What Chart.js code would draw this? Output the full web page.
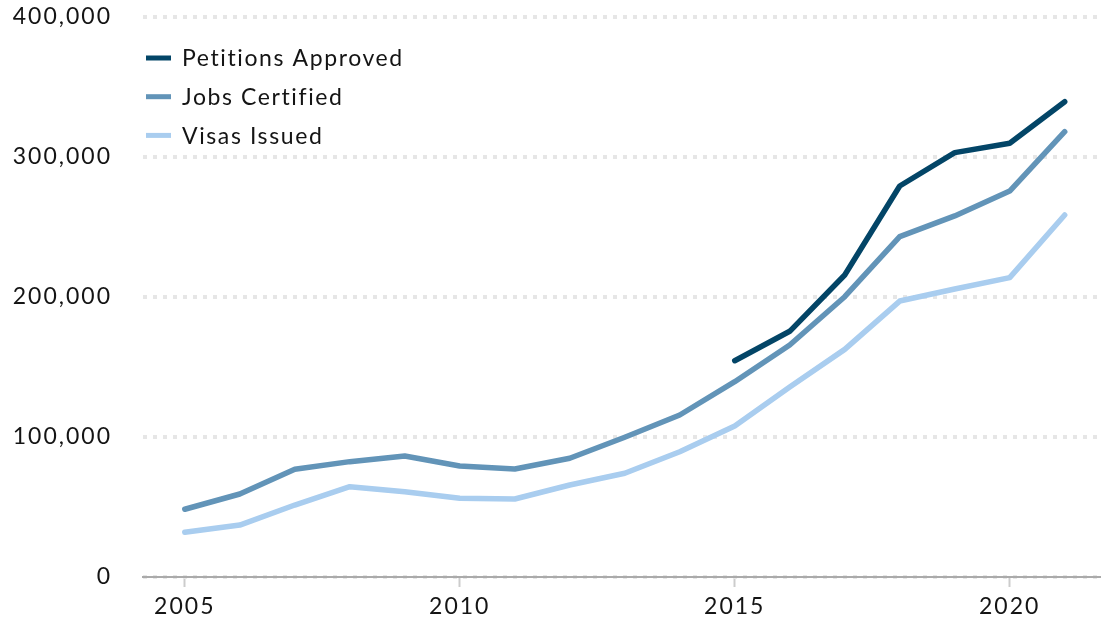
<!DOCTYPE html>
<html>
<head>
<meta charset="utf-8">
<script src="https://cdn.jsdelivr.net/npm/chart.js@4/dist/chart.umd.min.js"></script>
<style>
    html, body { margin: 0; padding: 0; background: #fff; }
    #wrap { width: 1101px; height: 619px; position: relative; }
</style>
</head>
<body>
<div id="wrap"><canvas id="chart"></canvas></div>
<script>
// Fiscal years
const years = [2005, 2006, 2007, 2008, 2009, 2010, 2011, 2012, 2013, 2014, 2015, 2016, 2017, 2018, 2019, 2020, 2021];

// Series values
const petitionsApproved = [null, null, null, null, null, null, null, null, null, null,
    154500, 175500, 215700, 279300, 303100, 309800, 339500];
const jobsCertified = [48400, 59300, 76900, 82400, 86400, 79300, 77100, 84800, 99800, 115700,
    139500, 165700, 200200, 243100, 257900, 275700, 318100];
const visasIssued = [31900, 37100, 51400, 64500, 60900, 56200, 55700, 65700, 74100, 89500,
    107900, 135700, 162600, 197100, 205700, 213800, 258600];

const xTickYears = [2005, 2010, 2015, 2020];
const yTicks = [0, 100000, 200000, 300000, 400000];

const FONT = 'Lato, "Open Sans", sans-serif';
const TEXT = '#141414';

const toPoints = (vals) => years.map((yr, i) => ({ x: yr, y: vals[i] }));

// wider tracking, closer to the original typeface
const tracking = {
    id: 'tracking',
    beforeLayout(chart) { chart.ctx.letterSpacing = '2px'; },
    beforeDraw(chart) { chart.ctx.letterSpacing = '2px'; }
};

// Legend drawn inside the plot, top-left
const insideLegend = {
    id: 'insideLegend',
    afterDraw(chart) {
        const ctx = chart.ctx;
        const area = chart.chartArea;
        ctx.save();
        ctx.font = '23px ' + FONT;
        ctx.letterSpacing = '1.6px';
        ctx.textBaseline = 'middle';
        chart.data.datasets.forEach((ds, i) => {
            const y = area.top + 41 + i * 38.7;
            ctx.strokeStyle = ds.borderColor;
            ctx.lineWidth = 5;
            ctx.lineCap = 'butt';
            ctx.beginPath();
            ctx.moveTo(area.left + 3, y);
            ctx.lineTo(area.left + 28, y);
            ctx.stroke();
            ctx.fillStyle = TEXT;
            ctx.fillText(ds.label, area.left + 39, y + 1);
        });
        ctx.restore();
    }
};

const lineStyle = {
    borderWidth: 5.5,
    pointRadius: 0,
    pointHoverRadius: 0,
    borderCapStyle: 'round',
    borderJoinStyle: 'round',
    tension: 0,
    fill: false
};

new Chart(document.getElementById('chart'), {
    type: 'line',
    data: {
        datasets: [
            { label: 'Petitions Approved', data: toPoints(petitionsApproved), borderColor: '#034567', order: 0, ...lineStyle },
            { label: 'Jobs Certified', data: toPoints(jobsCertified), borderColor: '#6294b8', order: 1, ...lineStyle },
            { label: 'Visas Issued', data: toPoints(visasIssued), borderColor: '#a9cdef', order: 2, ...lineStyle }
        ]
    },
    options: {
        responsive: true,
        maintainAspectRatio: false,
        animation: false,
        layout: { padding: { top: 17, right: 0, bottom: 0, left: 0 } },
        plugins: {
            legend: { display: false },
            tooltip: { enabled: false }
        },
        scales: {
            x: {
                type: 'linear',
                min: 2004.24,
                max: 2021.66,
                afterBuildTicks: (axis) => { axis.ticks = xTickYears.map(v => ({ value: v })); },
                afterFit: (axis) => { axis.height = 42; axis.paddingLeft = 0; axis.paddingRight = 0; },
                border: { display: true, color: '#aaaaaa', width: 2 },
                grid: {
                    drawOnChartArea: false,
                    drawTicks: true,
                    tickLength: 10,
                    tickWidth: 2,
                    tickColor: '#cccccc'
                },
                ticks: {
                    padding: 6,
                    color: TEXT,
                    font: { family: FONT, size: 23 },
                    callback: (v) => String(v),
                    maxRotation: 0
                }
            },
            y: {
                min: 0,
                max: 400000,
                afterBuildTicks: (axis) => { axis.ticks = yTicks.map(v => ({ value: v })); },
                afterFit: (axis) => { axis.width = 143; axis.paddingTop = 0; axis.paddingBottom = 0; },
                border: { display: false, dash: [4, 6] },
                grid: {
                    drawTicks: false,
                    color: '#e6e6e6',
                    lineWidth: 4
                },
                ticks: {
                    padding: 31,
                    color: TEXT,
                    font: { family: FONT, size: 23 },
                    callback: (v) => v.toLocaleString('en-US')
                }
            }
        }
    },
    plugins: [tracking, insideLegend]
});
</script>
</body>
</html>
